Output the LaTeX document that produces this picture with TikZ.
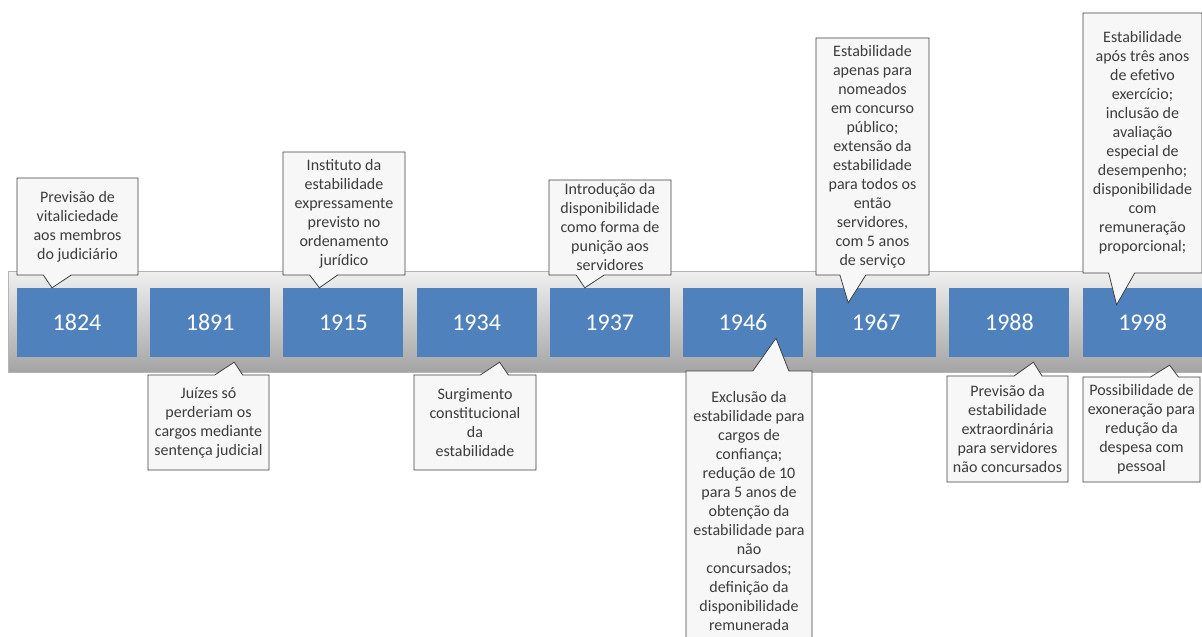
\documentclass[tikz,border=0pt]{standalone}
\usepackage{fontspec}
\setmainfont{Carlito}
\usetikzlibrary{shapes.callouts,calc}
\definecolor{yearblue}{HTML}{4F81BD}
\definecolor{calloutline}{HTML}{404040}
\definecolor{callouttext}{HTML}{3C3C3C}
\definecolor{calloutfill}{HTML}{F7F7F7}
\definecolor{bartop}{HTML}{F0F0F0}
\definecolor{barmid}{HTML}{D6D6D6}
\definecolor{barbot}{HTML}{A4A4A4}
\definecolor{baredge}{HTML}{B4B4B4}
\begin{document}
\begin{tikzpicture}[x=1pt,y=-1pt,
  yearbox/.style={fill=yearblue, text=white, minimum width=120pt, minimum height=69pt,
    inner sep=0pt, font=\fontsize{24}{28}\selectfont},
  note/.style={rectangle callout, draw=calloutline, line width=0.8pt, fill=calloutfill,
    text=callouttext, align=center, inner sep=0pt, callout pointer width=28pt,
    font=\fontsize{16}{19}\selectfont}
]
\clip (0,0) rectangle (1202,637);
\fill[white] (0,0) rectangle (1202,637);
% timeline bar
\shade[top color=bartop, middle color=barmid, bottom color=barbot] (8,271) rectangle (1215,372);
\draw[baredge, line width=0.8pt] (1215,271) -- (8,271) -- (8,372) -- (1215,372);
% year boxes
\node[yearbox] (y1824) at (77,322.5) {1824};
\node[yearbox] (y1891) at (210.2,322.5) {1891};
\node[yearbox] (y1915) at (343.4,322.5) {1915};
\node[yearbox] (y1934) at (476.6,322.5) {1934};
\node[yearbox] (y1937) at (609.8,322.5) {1937};
\node[yearbox] (y1946) at (743,322.5) {1946};
\node[yearbox] (y1967) at (876.2,322.5) {1967};
\node[yearbox] (y1988) at (1009.4,322.5) {1988};
\node[yearbox] (y1998) at (1142.6,322.5) {1998};
% callouts above
\node[note, minimum width=121pt, minimum height=97pt,
  callout absolute pointer={($(y1824.north)+(-25,0)$)}] (c1824) at (77.5,226.5)
  {Previsão de\\vitaliciedade\\aos membros\\do judiciário};
\node[note, minimum width=122pt, minimum height=123pt,
  callout absolute pointer={($(y1915.north)+(-24,0)$)}] (c1915) at (344,213.5)
  {Instituto da\\estabilidade\\expressamente\\previsto no\\ordenamento\\jurídico};
\node[note, minimum width=122pt, minimum height=95pt,
  callout absolute pointer={($(y1937.north)+(-25,0)$)}] (c1937) at (610,227.5)
  {Introdução da\\disponibilidade\\como forma de\\punição aos\\servidores};
\node[note, minimum width=113pt, minimum height=237pt, callout pointer width=26pt,
  callout absolute pointer={($(y1967.north)+(-28,15)$)}] (c1967) at (872.5,156.5)
  {Estabilidade\\apenas para\\nomeados\\em concurso\\público;\\extensão da\\estabilidade\\para todos os\\então\\servidores,\\com 5 anos\\de serviço};
\node[note, minimum width=119pt, minimum height=260pt, callout pointer width=26pt,
  callout absolute pointer={($(y1998.north)+(-26,17)$)}] (c1998a) at (1142.5,143)
  {Estabilidade\\após três anos\\de efetivo\\exercício;\\inclusão de\\avaliação\\especial de\\desempenho;\\disponibilidade\\com\\remuneração\\proporcional;};
% callouts below
\node[note, minimum width=121pt, minimum height=95pt,
  callout absolute pointer={($(y1891.south)+(24,5)$)}] (c1891) at (208.5,422.5)
  {Juízes só\\perderiam os\\cargos mediante\\sentença judicial};
\node[note, minimum width=122pt, minimum height=95pt,
  callout absolute pointer={($(y1934.south)+(23,5)$)}] (c1934) at (475,422.5)
  {Surgimento\\constitucional\\da\\estabilidade};
\node[note, minimum width=126pt, minimum height=279pt, callout pointer width=36pt,
  callout absolute pointer={($(y1946.south)+(33,-19)$)}] (c1946) at (749,510.5)
  {Exclusão da\\estabilidade para\\cargos de\\confiança;\\redução de 10\\para 5 anos de\\obtenção da\\estabilidade para\\não\\concursados;\\definição da\\disponibilidade\\remunerada};
\node[note, minimum width=121pt, minimum height=106pt,
  callout absolute pointer={($(y1988.south)+(24,5)$)}] (c1988) at (1007.5,429)
  {Previsão da\\estabilidade\\extraordinária\\para servidores\\não concursados};
\node[note, minimum width=117pt, minimum height=105pt,
  callout absolute pointer={($(y1998.south)+(27,8)$)}] (c1998b) at (1141.5,429.5)
  {Possibilidade de\\exoneração para\\redução da\\despesa com\\pessoal};
\end{tikzpicture}
\end{document}
